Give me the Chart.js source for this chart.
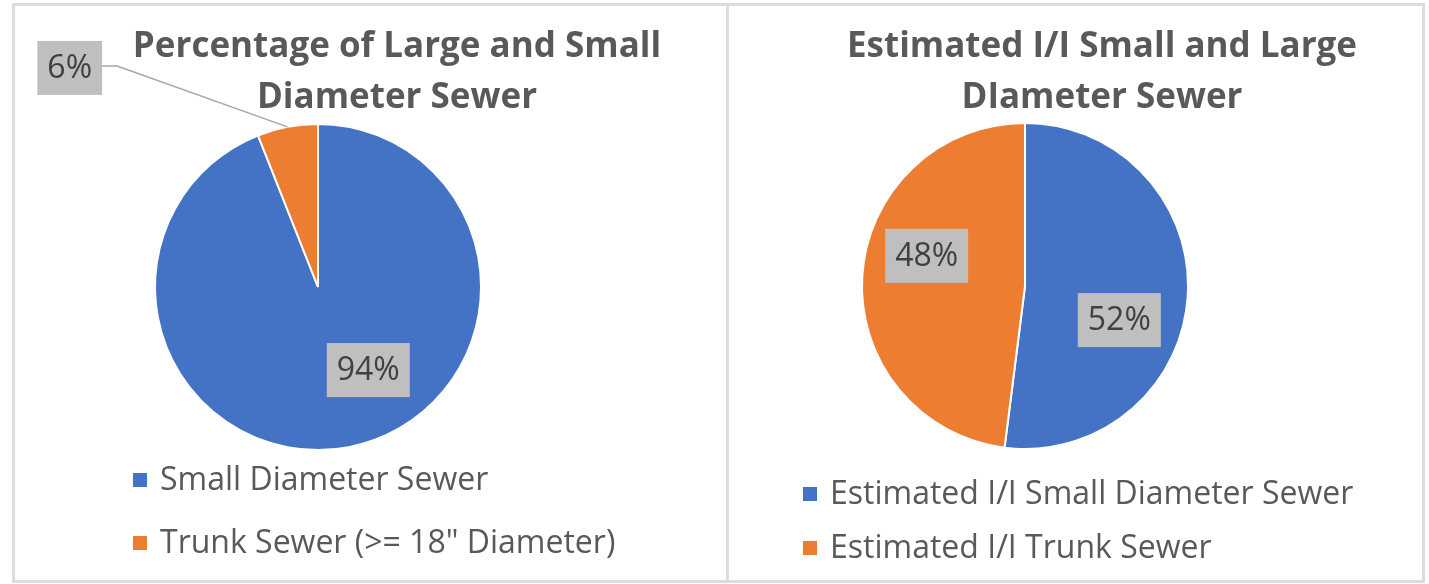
<!DOCTYPE html>
<html>
<head>
    <meta charset="utf-8">
    <title>Sewer I/I pies</title>
    <script src="https://cdn.jsdelivr.net/npm/chart.js@4.4.1/dist/chart.umd.min.js"></script>
    <style>
        html, body {
            margin: 0;
            padding: 0;
            background: #fff;
        }
        .panel {
            position: absolute;
            top: 3px;
            height: 580px;
            box-sizing: border-box;
            border: 3px solid #dcdcdc;
            background: #fff;
        }
        #leftPanel { left: 12px; width: 717px; }
        #rightPanel { left: 726px; width: 699px; }
        canvas { display: block; }
    </style>
</head>
<body>
<div class="panel" id="leftPanel"><canvas id="leftChart" width="711" height="574"></canvas></div>
<div class="panel" id="rightPanel"><canvas id="rightChart" width="693" height="574"></canvas></div>
<script>
    // data
    const leftTitle = ['Percentage of Large and Small', 'Diameter Sewer'];
    const leftCategories = ['Small Diameter Sewer', 'Trunk Sewer (>= 18" Diameter)'];
    const leftValues = [94, 6];

    const rightTitle = ['Estimated I/I Small and Large', 'DIameter Sewer'];
    const rightCategories = ['Estimated I/I Small Diameter Sewer', 'Estimated I/I Trunk Sewer'];
    const rightValues = [52, 48];

    const sliceColors = ['#4472C4', '#ED7D31'];
    const FONT = '"Open Sans", Lato, sans-serif';

    // draws the excel-ish title, grey value boxes and the stacked legend
    const excelDecor = {
        id: 'excelDecor',
        afterDatasetsDraw(chart, args, opts) {
            const ctx = chart.ctx;
            ctx.save();

            // title
            ctx.fillStyle = '#595959';
            ctx.font = 'bold ' + opts.titleSize + 'px ' + FONT;
            ctx.textAlign = 'center';
            ctx.textBaseline = 'alphabetic';
            opts.title.forEach((line, i) => {
                ctx.fillText(line, opts.titleX, opts.titleY + i * opts.titleLine);
            });

            // value labels
            const meta = chart.getDatasetMeta(0);
            const data = chart.data.datasets[0].data;
            const total = data.reduce((a, b) => a + b, 0);
            ctx.font = opts.labelSize + 'px ' + FONT;
            meta.data.forEach((arc, i) => {
                const p = arc.tooltipPosition(true);
                const shift = opts.labelShift[i] || [0, 0];
                const cx = p.x + shift[0], cy = p.y + shift[1];
                const txt = Math.round(data[i] / total * 100) + '%';
                const w = ctx.measureText(txt).width + 20, h = 54;
                if (opts.leader[i]) {
                    const mid = (arc.startAngle + arc.endAngle) / 2;
                    const ex = arc.x + Math.cos(mid) * arc.outerRadius;
                    const ey = arc.y + Math.sin(mid) * arc.outerRadius;
                    ctx.strokeStyle = '#a6a6a6';
                    ctx.lineWidth = 1.5;
                    ctx.beginPath();
                    ctx.moveTo(cx + w / 2, cy - 2);
                    ctx.lineTo(cx + w / 2 + 15, cy - 2);
                    ctx.lineTo(ex, ey);
                    ctx.stroke();
                }
                ctx.fillStyle = '#bfbfbf';
                ctx.fillRect(cx - w / 2, cy - h / 2, w, h);
                ctx.fillStyle = '#404040';
                ctx.textAlign = 'center';
                ctx.textBaseline = 'middle';
                ctx.fillText(txt, cx, cy + 1);
            });

            // legend
            ctx.font = opts.legendSize + 'px ' + FONT;
            ctx.textAlign = 'left';
            ctx.textBaseline = 'middle';
            chart.data.labels.forEach((lab, i) => {
                const y = opts.legendY + i * opts.legendGap;
                ctx.fillStyle = sliceColors[i];
                ctx.fillRect(opts.legendX, y - 7, 14, 14);
                ctx.fillStyle = '#595959';
                ctx.fillText(lab, opts.legendX + 27, y + 1);
            });

            ctx.restore();
        }
    };

    function makePie(id, labels, values, padding, decor) {
        return new Chart(document.getElementById(id), {
            type: 'pie',
            data: {
                labels: labels,
                datasets: [{
                    data: values,
                    backgroundColor: sliceColors,
                    borderColor: '#ffffff',
                    borderWidth: 2,
                    hoverOffset: 0
                }]
            },
            options: {
                responsive: false,
                animation: false,
                layout: { padding: padding },
                plugins: {
                    legend: { display: false },
                    title: { display: false },
                    tooltip: { enabled: false },
                    excelDecor: decor
                }
            },
            plugins: [excelDecor]
        });
    }

    makePie('leftChart', leftCategories, leftValues,
        { left: 139, right: 244, top: 117, bottom: 129 },
        {
            title: leftTitle, titleX: 382, titleY: 51, titleLine: 51, titleSize: 35,
            labelSize: 32, labelShift: [[35, 3], [-233, -139]], leader: [false, true],
            legendX: 118, legendY: 474, legendGap: 63, legendSize: 32
        });

    makePie('rightChart', rightCategories, rightValues,
        { left: 132, right: 233, top: 116, bottom: 130 },
        {
            title: rightTitle, titleX: 373, titleY: 51, titleLine: 51, titleSize: 35,
            labelSize: 32, labelShift: [[13, 29], [-17, -25]], leader: [false, false],
            legendX: 74, legendY: 488, legendGap: 54, legendSize: 32
        });
</script>
</body>
</html>
